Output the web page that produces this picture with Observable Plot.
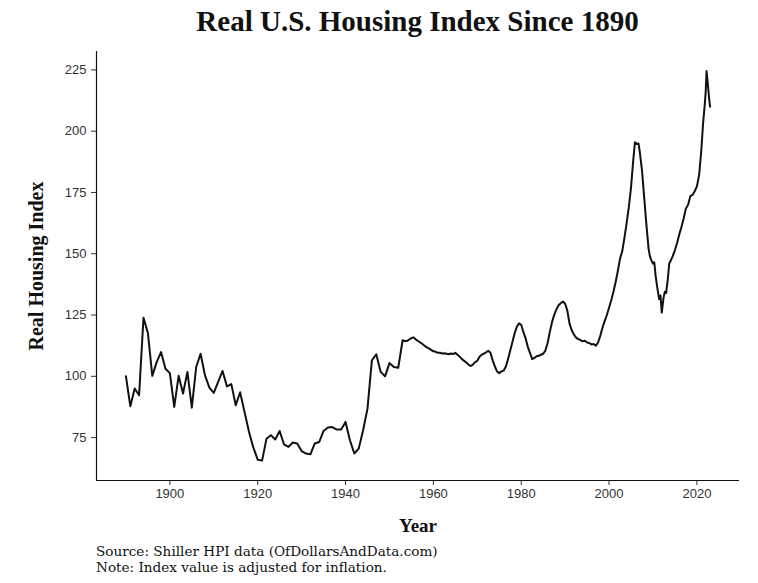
<!DOCTYPE html>
<html>
<head>
<meta charset="utf-8">
<script src="https://cdn.jsdelivr.net/npm/d3@7"></script>
<script src="https://cdn.jsdelivr.net/npm/@observablehq/plot@0.6"></script>
<style>
  body { margin: 0; background: #fff; }
  #chart { position: relative; width: 758px; height: 583px; background: #fff; overflow: hidden; }
  #title {
    position: absolute; left: 96px; width: 643px; top: 3px; height: 36px; line-height: 36px;
    text-align: center; font-family: "Liberation Serif", serif; font-weight: bold; font-size: 29px; color: #111;
  }
  #plot { position: absolute; left: 0; top: 45px; }
  #caption {
    position: absolute; left: 96px; top: 543px;
    font-family: "DejaVu Serif", serif; font-size: 13.6px; line-height: 16px; color: #111;
  }
</style>
</head>
<body>
<div id="chart">
  <div id="title">Real U.S. Housing Index Since 1890</div>
  <div id="plot"></div>
  <div id="caption">Source: Shiller HPI data (OfDollarsAndData.com)<br>Note: Index value is adjusted for inflation.</div>
</div>
<script>
// Shiller real home price index (1890 = 100): annual readings through 1952
const annualYears = d3.range(1890, 1953);
const annualIndex = [
  100, 87.8, 95, 92.3, 123.9, 117.7, 100.2, 105.8, 109.9, 103.1,
  101.3, 87.5, 100.2, 93, 101.8, 87.2, 103.8, 109.2, 100.4, 95.4,
  93.2, 97.7, 102.2, 95.9, 96.8, 88.2, 93.5, 85.5, 77.5, 71,
  66, 65.6, 74.5, 76, 74.2, 77.7, 72.2, 71.2, 73, 72.6,
  69.5, 68.5, 68.2, 72.6, 73.2, 77.7, 79.1, 79.3, 78.3, 78.3,
  81.4, 73.9, 68.5, 70.5, 78, 86.8, 106.5, 109, 101.8, 100,
  105.4, 103.8, 103.5
];

// Finer readings from 1953 onward
const laterYears = [
  1953, 1953.5, 1954, 1954.5, 1955, 1955.5, 1956, 1956.5, 1957, 1957.5,
  1958, 1958.5, 1959, 1959.5, 1960, 1960.5, 1961, 1961.5, 1962, 1962.5,
  1963, 1963.5, 1964, 1964.5, 1965, 1965.5, 1966, 1966.5, 1967, 1967.5,
  1968, 1968.5, 1969, 1969.5, 1970, 1970.5, 1971, 1971.5, 1972, 1972.5,
  1973, 1973.5, 1974, 1974.5, 1975, 1975.5, 1976, 1976.5, 1977, 1977.5,
  1978, 1978.5, 1979, 1979.5, 1980, 1980.5, 1981, 1981.5, 1982, 1982.5,
  1983, 1983.5, 1984, 1984.5, 1985, 1985.5, 1986, 1986.5, 1987, 1987.5,
  1988, 1988.5, 1989, 1989.5, 1990, 1990.5, 1991, 1991.5, 1992, 1992.5,
  1993, 1993.5, 1994, 1994.5, 1995, 1995.5, 1996, 1996.5, 1997, 1997.5,
  1998, 1998.5, 1999, 1999.5, 2000, 2000.5, 2001, 2001.5, 2002, 2002.5,
  2003, 2003.5, 2004, 2004.5, 2005, 2005.5, 2005.9, 2006.3, 2006.7, 2007,
  2007.5, 2008, 2008.5, 2009, 2009.3, 2009.6, 2010, 2010.3, 2010.6, 2011,
  2011.4, 2011.7, 2012, 2012.4, 2012.7, 2013, 2013.4, 2013.7, 2014, 2014.5,
  2015, 2015.5, 2016, 2016.5, 2017, 2017.5, 2018, 2018.5, 2019, 2019.5,
  2020, 2020.5, 2021, 2021.4, 2021.8, 2022, 2022.2, 2022.5, 2022.8, 2023
];
const laterIndex = [
  114.7, 114.4, 114.4, 115.0, 115.6, 115.9, 115.0, 114.4, 113.8, 113.2,
  112.5, 111.8, 111.4, 110.8, 110.2, 110.0, 109.6, 109.6, 109.3, 109.4,
  109.2, 109.0, 109.3, 109.1, 109.6, 108.8, 108.0, 107.0, 106.3, 105.6,
  104.8, 104.2, 104.8, 105.8, 106.3, 108.0, 108.8, 109.3, 109.8, 110.4,
  109.6, 106.5, 104.0, 102.0, 101.3, 102.0, 102.3, 104.0, 107.0, 110.5,
  114.0, 117.5, 120.2, 121.6, 121.0, 118.0, 115.5, 112.0, 109.5, 107.0,
  107.5, 108.2, 108.4, 108.8, 109.2, 110.5, 113.5, 118.0, 122.0, 125.0,
  127.3, 129.0, 129.8, 130.5, 129.6, 126.8, 121.5, 118.8, 117.0, 115.8,
  115.2, 114.8, 114.3, 114.5, 113.8, 113.6, 113.0, 113.2, 112.5, 113.8,
  116.5, 119.8, 122.5, 125.0, 128.0, 131.0, 134.5, 138.5, 143.0, 148.0,
  151.0, 156.5, 162.5, 169.0, 177.0, 188.0, 195.5, 194.8, 195.0, 191.5,
  184.0, 173.0, 162.0, 152.0, 149.0, 147.5, 146.0, 146.5, 141.0, 136.0,
  131.5, 133.0, 126.0, 132.0, 134.5, 134.0, 140.0, 146.0, 147.0, 149.0,
  151.5, 154.5, 158.0, 161.0, 164.5, 168.5, 170.0, 173.5, 174.0, 175.5,
  177.5, 182.0, 192.0, 203.0, 211.0, 216.0, 224.5, 219.0, 213.0, 210.0
];

const xTicks = [1900, 1920, 1940, 1960, 1980, 2000, 2020];
const yTicks = [75, 100, 125, 150, 175, 200, 225];

const years = annualYears.concat(laterYears);
const index = annualIndex.concat(laterIndex);
const series = years.map((year, i) => ({year, value: index[i]}));

const xDomain = [1883.3, 2029.7];
const yDomain = [57.5, 232.5];

const chart = Plot.plot({
  width: 758,
  height: 500,
  marginLeft: 96,
  marginRight: 19,
  marginTop: 6,
  marginBottom: 65,
  style: {fontFamily: "Liberation Sans, Arial, sans-serif", fontSize: "13px", background: "#fff"},
  x: {domain: xDomain},
  y: {domain: yDomain},
  marks: [
    Plot.axisX({ticks: xTicks, tickFormat: d => String(d), tickSize: 5, tickPadding: 3, stroke: "#333", fill: "#333", label: null}),
    Plot.axisY({ticks: yTicks, tickSize: 5, tickPadding: 5, stroke: "#333", fill: "#333", label: null}),
    Plot.ruleX([xDomain[0]], {stroke: "#111", strokeWidth: 1.2}),
    Plot.ruleY([yDomain[0]], {stroke: "#111", strokeWidth: 1.2}),
    Plot.lineY(series, {x: "year", y: "value", stroke: "#111", strokeWidth: 2, strokeLinejoin: "round"}),
    Plot.text(["Year"], {frameAnchor: "bottom", dy: 51, fontFamily: "Liberation Serif, serif", fontWeight: "bold", fontSize: 19, fill: "#111"}),
    Plot.text(["Real Housing Index"], {frameAnchor: "left", textAnchor: "middle", dx: -60, rotate: -90, fontFamily: "Liberation Serif, serif", fontWeight: "bold", fontSize: 20, fill: "#111"})
  ]
});
document.getElementById("plot").appendChild(chart);
</script>
</body>
</html>
